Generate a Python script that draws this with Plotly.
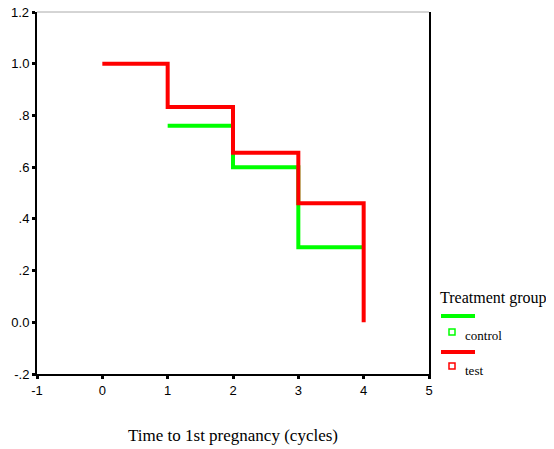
import plotly.graph_objects as go

# Data
test_time = [0, 1, 2, 3, 4]
test_surv = [1.0, 0.833, 0.656, 0.46, 0.0]
control_time = [1, 2, 3, 4]
control_surv = [0.76, 0.60, 0.29, 0.29]

x_ticks = [-1, 0, 1, 2, 3, 4, 5]
x_ticktext = ["-1", "0", "1", "2", "3", "4", "5"]
y_tickvals = [1.2, 1.0, 0.8, 0.6, 0.4, 0.2, 0.0, -0.2]
y_ticktext = ["1.2", "1.0", ".8", ".6", ".4", ".2", "0.0", "-.2"]

GREEN = "#00ff00"
RED = "#ff0000"

fig = go.Figure()
fig.add_trace(go.Scatter(x=control_time, y=control_surv, mode="lines",
                         line=dict(color=GREEN, width=4, shape="hv"), name="control"))
fig.add_trace(go.Scatter(x=test_time, y=test_surv, mode="lines",
                         line=dict(color=RED, width=4, shape="hv"), name="test"))

OFF = 8  # default body margin of the page
W, H = 554 - OFF, 449 - OFF
PL, PR, PT, PB = 37, 429, 12, 374  # plot area in window pixels
L, T = PL - OFF, PT - OFF
R, B = W - (PR - OFF), H - (PB - OFF)
pw, ph = PR - PL, PB - PT

def px(xpix):
    return (xpix - PL) / pw

def py(ypix):
    return 1 - (ypix - PT) / ph

shapes = [
    dict(type="line", xref="paper", yref="paper", x0=0, x1=1, y0=1, y1=1,
         line=dict(color="#aaaaaa", width=1)),
    # legend swatches
    dict(type="line", xref="paper", yref="paper", x0=px(441), x1=px(475), y0=py(316), y1=py(316),
         line=dict(color=GREEN, width=4)),
    dict(type="rect", xref="paper", yref="paper", x0=px(449), x1=px(455), y0=py(329), y1=py(335),
         line=dict(color=GREEN, width=1.5)),
    dict(type="line", xref="paper", yref="paper", x0=px(441), x1=px(475), y0=py(352), y1=py(352),
         line=dict(color=RED, width=4)),
    dict(type="rect", xref="paper", yref="paper", x0=px(449), x1=px(455), y0=py(363), y1=py(369),
         line=dict(color=RED, width=1.5)),
]

serif = "Liberation Serif, Times New Roman, serif"
sans = "Liberation Sans, Arial, sans-serif"
annotations = [
    # top tick label (plotly hides it because it touches the page edge)
    dict(text=y_ticktext[0], xref="paper", yref="y", x=0, y=y_tickvals[0],
         xanchor="right", yanchor="middle", xshift=-6, showarrow=False,
         font=dict(family=sans, size=13, color="black")),
    dict(text="Treatment group", xref="paper", yref="paper", x=px(438), y=py(298),
         xanchor="left", yanchor="middle", showarrow=False,
         font=dict(family=serif, size=16, color="black")),
    dict(text="control", xref="paper", yref="paper", x=px(463), y=py(335),
         xanchor="left", yanchor="middle", showarrow=False,
         font=dict(family=serif, size=13, color="black")),
    dict(text="test", xref="paper", yref="paper", x=px(463), y=py(370),
         xanchor="left", yanchor="middle", showarrow=False,
         font=dict(family=serif, size=13, color="black")),
]

fig.update_layout(
    width=W, height=H,
    margin=dict(l=L, r=R, t=T, b=B, autoexpand=False),
    paper_bgcolor="white", plot_bgcolor="white",
    showlegend=False,
    shapes=shapes, annotations=annotations,
    font=dict(family=sans, size=13, color="black"),
    xaxis=dict(range=[-1, 5], tickvals=x_ticks, ticktext=x_ticktext, ticks="outside",
               ticklen=3, tickwidth=3,
               tickcolor="black", showline=True, linecolor="black", linewidth=2,
               showgrid=False, zeroline=False, automargin=False,
               title=dict(text="Time to 1st pregnancy (cycles)", standoff=33,
                          font=dict(family=serif, size=17, color="black"))),
    yaxis=dict(range=[-0.2, 1.2], tickvals=y_tickvals, ticktext=y_ticktext,
               ticks="outside", ticklen=3, tickwidth=3, tickcolor="black",
               showline=True, linecolor="black", linewidth=2, mirror=True,
               showgrid=False, zeroline=False, automargin=False),
)

fig.write_html("out.html")
